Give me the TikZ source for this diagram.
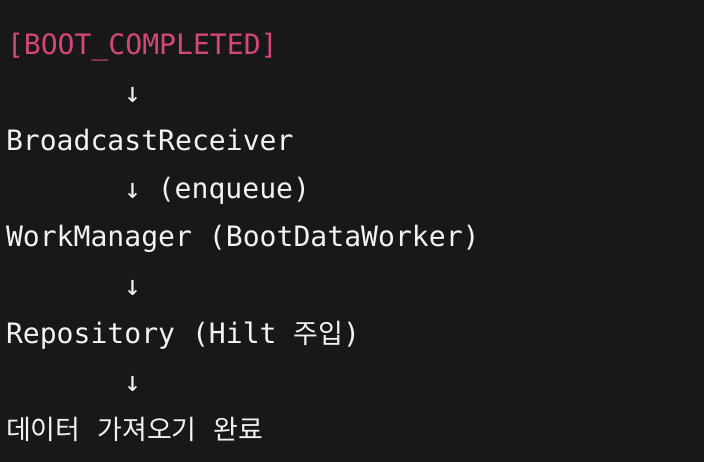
\documentclass[tikz,border=0pt]{standalone}
\usepackage{fontspec}
\setmonofont{DejaVu Sans Mono}
\newfontfamily\kr{Noto Sans CJK KR}[Scale=0.96]
\definecolor{bg}{HTML}{181818}
\definecolor{pinktxt}{HTML}{D4467C}
\definecolor{fg}{HTML}{F2F2F2}
\begin{document}
\begin{tikzpicture}[x=1pt,y=-1pt,
  code/.style={anchor=base west,inner sep=0pt,outer sep=0pt,text=fg,font=\ttfamily\fontsize{28.1}{33}\selectfont},
  hot/.style={code,text=pinktxt}]
\fill[bg] (0,0) rectangle (704,462);
\useasboundingbox (0,0) rectangle (704,462);
\node[hot]  (boot) at (7,55)  {[BOOT\_COMPLETED]};
\node[code] (a1)   at (124,103) {↓};
\node[code] (br)   at (6,151) {BroadcastReceiver};
\node[code] (a2)   at (124,199) {↓ (enqueue)};
\node[code] (wm)   at (6,247) {WorkManager (BootDataWorker)};
\node[code] (a3)   at (124,295) {↓};
\node[code] (repo) at (6,343) {Repository (Hilt {\kr 주입})};
\node[code] (a4)   at (124,391) {↓};
\node[code] (done) at (6,439) {{\kr 데이터} {\kr 가져오기} {\kr 완료}};
\end{tikzpicture}
\end{document}
